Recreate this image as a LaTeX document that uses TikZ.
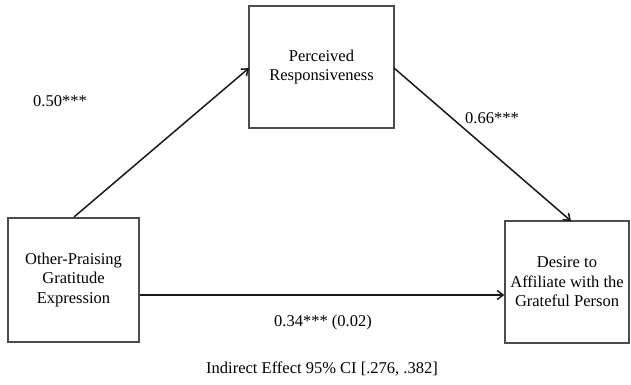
\documentclass[tikz,border=0pt]{standalone}
\usepackage{fontspec}
\setmainfont{Liberation Serif}
\usetikzlibrary{arrows.meta}
\begin{document}
\begin{tikzpicture}[x=1pt,y=-1pt,
  box/.style={draw=black!70,line width=1.2pt,minimum width=#1,align=center,font=\fontsize{16.5}{19.5}\selectfont,inner sep=0pt},
  conn/.style={draw=black!90,line width=1.5pt,-{Straight Barb[length=6pt,width=9pt,line width=1.5pt]}},
  lbl/.style={font=\fontsize{16.5}{19.5}\selectfont,inner sep=0pt}]
\useasboundingbox (0,0) rectangle (631,385);
\node[box=131pt,minimum height=124pt] (A) at (73.5,280) {Other-Praising\\Gratitude\\Expression};
\node[box=145pt,minimum height=122pt] (M) at (321.5,67) {Perceived\\Responsiveness};
\node[box=124pt,minimum height=122pt] (Y) at (567,282) {Desire to\\Affiliate with the\\Grateful Person};
\coordinate (a1) at (74,217);
\coordinate (a2) at (249,68);
\coordinate (b1) at (394,68);
\coordinate (b2) at (571,221);
\draw[conn] (a1) -- (a2);
\draw[conn] (b1) -- (b2);
\draw[conn] (A.east |- 0,295) -- (Y.west |- 0,295);
\node[lbl] (l1) at (60,101) {0.50***};
\node[lbl] (l2) at (492,118) {0.66***};
\node[lbl] (l3) at (323,323) {0.34*** (0.02)};
\node[lbl] (l4) at (322,369) {Indirect Effect 95\% CI [.276, .382]};
\end{tikzpicture}
\end{document}
